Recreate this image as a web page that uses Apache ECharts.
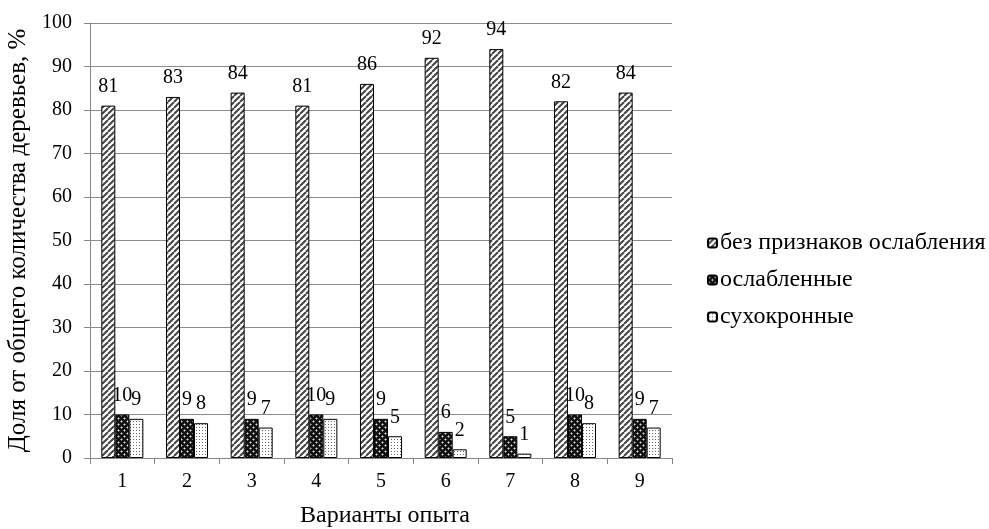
<!DOCTYPE html>
<html>
<head>
<meta charset="utf-8">
<script src="https://cdn.jsdelivr.net/npm/echarts@6/dist/echarts.min.js"></script>
<style>html,body{margin:0;padding:0;background:#fff}#c{width:989px;height:529px}</style>
</head>
<body>
<div id="c"></div>
<script>
const categories = ['1','2','3','4','5','6','7','8','9'];
const seriesNames = ['без признаков ослабления','ослабленные','сухокронные'];
const healthy = [81,83,84,81,86,92,94,82,84];
const weakened = [10,9,9,10,9,6,5,10,9];
const dryTop = [9,8,7,9,5,2,1,8,7];

function mk(w,h,draw){const c=document.createElement('canvas');c.width=w;c.height=h;const x=c.getContext('2d');draw(x,w,h);return c;}
const patHatch = mk(6,6,(x,w,h)=>{x.fillStyle='#fff';x.fillRect(0,0,w,h);x.strokeStyle='#444';x.lineWidth=2;
  for(let o=-6;o<=12;o+=6){x.beginPath();x.moveTo(o,h);x.lineTo(o+w,0);x.stroke();}});
const patDark = mk(6,6,(x,w,h)=>{x.fillStyle='#111';x.fillRect(0,0,w,h);x.fillStyle='#ddd';
  x.fillRect(1,1,1,1);x.fillRect(4,4,1,1);x.fillStyle='#777';x.fillRect(0,1,1,1);x.fillRect(2,1,1,1);x.fillRect(1,0,1,1);x.fillRect(1,2,1,1);
  x.fillRect(3,4,1,1);x.fillRect(5,4,1,1);x.fillRect(4,3,1,1);x.fillRect(4,5,1,1);});
const patDots = mk(3,3,(x,w,h)=>{x.fillStyle='#fff';x.fillRect(0,0,w,h);x.fillStyle='#666';x.fillRect(1,1,1,1);});
const pats=[patHatch,patDark,patDots];
const datas=[healthy,weakened,dryTop];

const font='"Liberation Serif","Times New Roman",serif';
const chart=echarts.init(document.getElementById('c'));
chart.setOption({
  animation:false,
  textStyle:{fontFamily:font,color:'#000'},
  grid:{left:90,right:317,top:23,bottom:71,outerBoundsMode:'none',containLabel:false},
  legend:{orient:'vertical',left:702,top:226,itemGap:13,itemWidth:9,itemHeight:9,
    textStyle:{fontFamily:font,fontSize:24,color:'#000',padding:[0,0,0,-2]},
    data:seriesNames},
  xAxis:{type:'category',data:categories,
    name:'Варианты опыта',nameLocation:'middle',nameGap:46,
    nameTextStyle:{fontFamily:font,fontSize:24,color:'#000',verticalAlign:'top',padding:[0,0,0,8]},
    axisLine:{lineStyle:{color:'#868686'}},
    axisTick:{show:true,length:6,lineStyle:{color:'#868686'}},
    axisLabel:{fontFamily:font,fontSize:20,color:'#000',margin:14}},
  yAxis:{type:'value',min:0,max:100,interval:10,
    name:'Доля от общего количества деревьев, %',nameLocation:'middle',nameGap:57,
    nameTextStyle:{fontFamily:font,fontSize:25,color:'#000'},
    axisLine:{show:true,lineStyle:{color:'#868686'}},
    axisTick:{show:true,length:6,lineStyle:{color:'#868686'}},
    splitLine:{lineStyle:{color:'#8c8c8c'}},
    axisLabel:{fontFamily:font,fontSize:20,color:'#000',margin:18}},
  series:seriesNames.map((n,i)=>({
    name:n,type:'bar',data:datas[i],barGap:'0%',barCategoryGap:'35%',
    itemStyle:{color:{image:pats[i],repeat:'repeat'},borderColor:'#000',borderWidth:1},
    label:{show:true,position:'top',distance:9,fontFamily:font,fontSize:20,color:'#000'}
  }))
});
</script>
</body>
</html>
